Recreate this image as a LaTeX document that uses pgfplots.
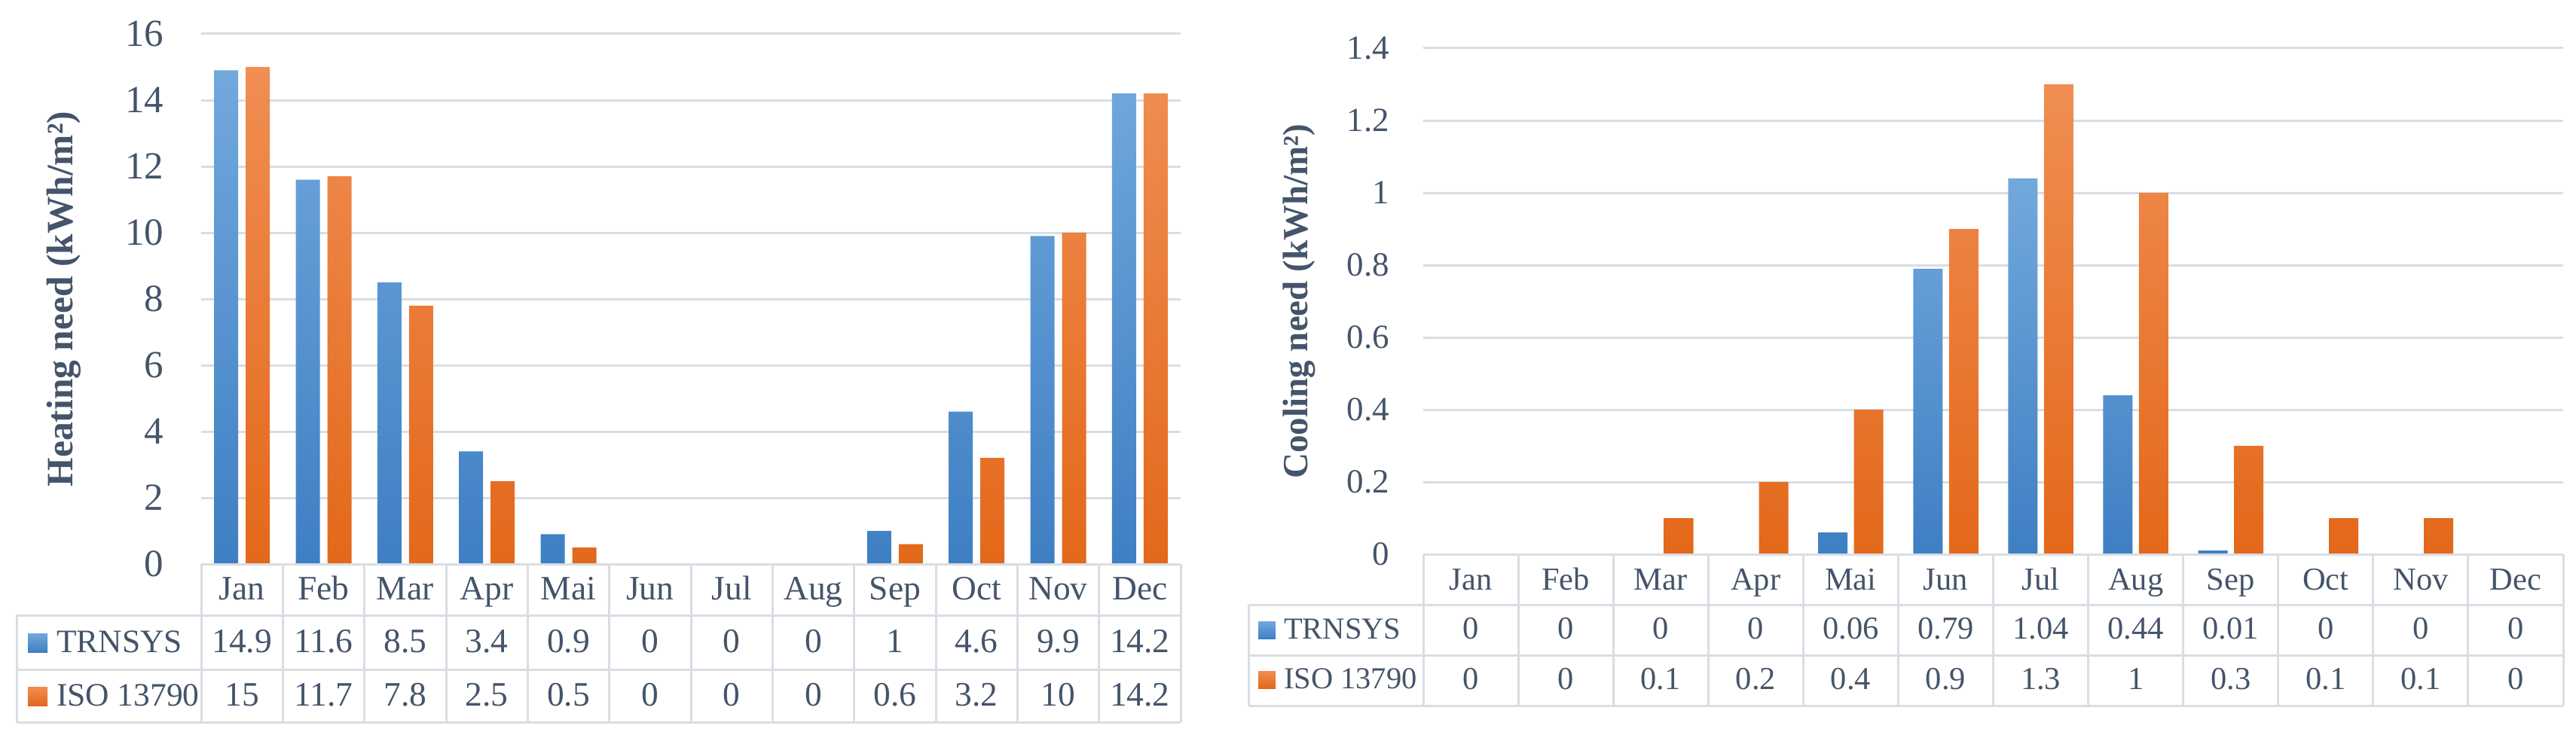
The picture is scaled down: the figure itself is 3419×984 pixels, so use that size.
\documentclass[border=0pt]{standalone}
\usepackage{fontspec}
\setmainfont{Liberation Serif}
\usepackage{pgfplots}
\usepackage{pgfplotstable}
\pgfplotsset{compat=1.18}
\definecolor{textc}{HTML}{44546A}
\definecolor{gridc}{HTML}{D9DDE4}
\definecolor{bT}{HTML}{72A8DD}
\definecolor{bB}{HTML}{3E7FC3}
\definecolor{oT}{HTML}{F08E53}
\definecolor{oB}{HTML}{E3681A}

\pgfplotstableread{
m T I
1 14.9 15
2 11.6 11.7
3 8.5 7.8
4 3.4 2.5
5 0.9 0.5
6 0 0
7 0 0
8 0 0
9 1 0.6
10 4.6 3.2
11 9.9 10
12 14.2 14.2
}\heat

\pgfplotstableread{
m T I
1 0 0
2 0 0
3 0 0.1
4 0 0.2
5 0.06 0.4
6 0.79 0.9
7 1.04 1.3
8 0.44 1
9 0.01 0.3
10 0 0.1
11 0 0.1
12 0 0
}\cool

\pgfplotsset{
  common/.style={
    scale only axis, enlargelimits=false, clip=false,
    xmin=0.5, xmax=12.5, xtick=\empty,
    ymajorgrids, grid style={draw=gridc, line width=0.6pt},
    axis line style={draw=none}, major tick length=0pt,
    /pgf/number format/assume math mode=true,
    yticklabel style={text=textc, anchor=east, inner sep=0pt},
    unbounded coords=discard,
    y filter/.expression={y==0 ? nan : y},
  },
  blueb/.style={draw=none, top color=bT, bottom color=bB},
  orangeb/.style={draw=none, top color=oT, bottom color=oB},
}

\begin{document}
\begin{tikzpicture}[x=0.2pt,y=-0.2pt]
\useasboundingbox (0,0) rectangle (3419,984);

% ---------- Heating ----------
\begin{axis}[common,
  at={(53.4pt,-149.8pt)}, anchor=south west,
  width=260pt, height=140.8pt,
  ymin=0, ymax=16, ytick={0,2,4,6,8,10,12,14,16},
  yticklabel style={font=\fontsize{10.2pt}{12pt}\selectfont, xshift=-9.8pt},
  ybar=2pt, bar width=6.4pt]
\addplot[blueb] table[x=m,y=T]{\heat};
\addplot[orangeb] table[x=m,y=I]{\heat};
\end{axis}

% ---------- Cooling ----------
\begin{axis}[common,
  at={(377.8pt,-147.2pt)}, anchor=south west,
  width=302.6pt, height=134.4pt,
  ymin=0, ymax=1.4, ytick={0,0.2,0.4,0.6,0.8,1,1.2,1.4},
  yticklabel style={font=\fontsize{9pt}{11pt}\selectfont, xshift=-8.8pt},
  ybar=1.7pt, bar width=7.8pt]
\addplot[blueb] table[x=m,y=T]{\cool};
\addplot[orangeb] table[x=m,y=I]{\cool};
\end{axis}

% ---------- Y labels ----------
\node[rotate=90, text=textc, font=\bfseries\fontsize{9.9pt}{12pt}\selectfont] at (85,397) {Heating need (kWh/m²)};
\node[rotate=90, text=textc, font=\bfseries\fontsize{9.4pt}{11pt}\selectfont] at (1724,400) {Cooling need (kWh/m²)};

% ---------- Left table ----------
\begin{scope}[draw=gridc, line width=0.6pt]
\draw (267,749) -- (1567,749);
\draw (22,817) -- (1567,817);
\draw (22,889) -- (1567,889);
\draw (22,959) -- (1567,959);
\draw (22,817) -- (22,959);
\foreach \k in {0,...,12} \draw ({267+108.333*\k},749) -- ({267+108.333*\k},959);
\end{scope}
\fill[top color=bT, bottom color=bB] (37,841) rectangle (63,866);
\fill[top color=oT, bottom color=oB] (37,912) rectangle (63,937);
\begin{scope}[every node/.style={text=textc, anchor=base, inner sep=0pt, font=\fontsize{9.1pt}{11pt}\selectfont}]
\node[anchor=base west, font=\fontsize{8.7pt}{10pt}\selectfont] at (74,866) {TRNSYS};
\node[anchor=base west, font=\fontsize{8.7pt}{10pt}\selectfont] at (74,937) {ISO 13790};
\foreach \mo [count=\i from 0] in {Jan,Feb,Mar,Apr,Mai,Jun,Jul,Aug,Sep,Oct,Nov,Dec}
  \node at ({267+108.333*(\i+0.5)},796) {\mo};
\foreach \i in {0,...,11}{
  \pgfplotstablegetelem{\i}{T}\of\heat
  \node at ({267+108.333*(\i+0.5)},866) {\pgfplotsretval};
  \pgfplotstablegetelem{\i}{I}\of\heat
  \node at ({267+108.333*(\i+0.5)},937) {\pgfplotsretval};
}
\end{scope}

% ---------- Right table ----------
\begin{scope}[draw=gridc, line width=0.6pt]
\draw (1889,736) -- (3402,736);
\draw (1657,803) -- (3402,803);
\draw (1657,870) -- (3402,870);
\draw (1657,937) -- (3402,937);
\draw (1657,803) -- (1657,937);
\foreach \k in {0,...,12} \draw ({1889+126.083*\k},736) -- ({1889+126.083*\k},937);
\end{scope}
\fill[top color=bT, bottom color=bB] (1670,825) rectangle (1693,848);
\fill[top color=oT, bottom color=oB] (1670,891) rectangle (1693,914);
\begin{scope}[every node/.style={text=textc, anchor=base, inner sep=0pt, font=\fontsize{8.5pt}{10pt}\selectfont}]
\node[anchor=base west, font=\fontsize{8.1pt}{10pt}\selectfont] at (1703,848) {TRNSYS};
\node[anchor=base west, font=\fontsize{8.1pt}{10pt}\selectfont] at (1703,914) {ISO 13790};
\foreach \mo [count=\i from 0] in {Jan,Feb,Mar,Apr,Mai,Jun,Jul,Aug,Sep,Oct,Nov,Dec}
  \node at ({1889+126.083*(\i+0.5)},783) {\mo};
\foreach \i in {0,...,11}{
  \pgfplotstablegetelem{\i}{T}\of\cool
  \node at ({1889+126.083*(\i+0.5)},848) {\pgfplotsretval};
  \pgfplotstablegetelem{\i}{I}\of\cool
  \node at ({1889+126.083*(\i+0.5)},915) {\pgfplotsretval};
}
\end{scope}
\end{tikzpicture}
\end{document}
